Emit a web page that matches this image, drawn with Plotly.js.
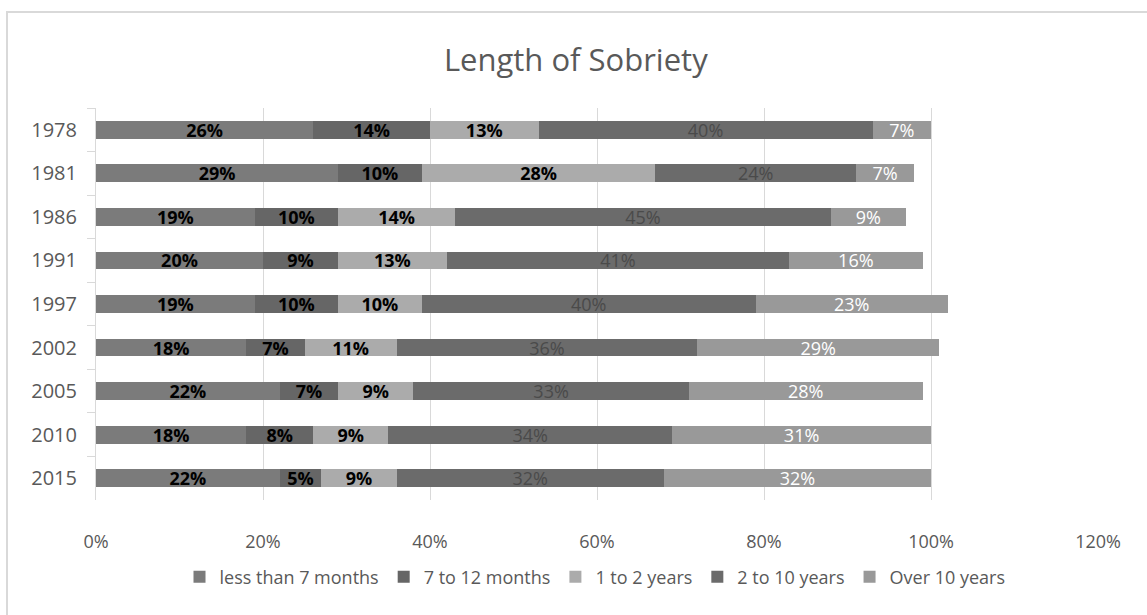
<!DOCTYPE html>
<html>
<head>
<meta charset="utf-8">
<script src="https://cdn.plot.ly/plotly-3.0.1.min.js"></script>
<style>html,body{margin:0;padding:0;background:#fff;}#chart{width:1147px;height:615px;}</style>
</head>
<body>
<div id="chart"></div>
<script>
const years = ["1978","1981","1986","1991","1997","2002","2005","2010","2015"];
const seriesNames = ["less than 7 months","7 to 12 months","1 to 2 years","2 to 10 years","Over 10 years"];
const lessThan7Months = [26,29,19,20,19,18,22,18,22];
const from7To12Months = [14,10,10,9,10,7,7,8,5];
const from1To2Years   = [13,28,14,13,10,11,9,9,9];
const from2To10Years  = [40,24,45,41,40,36,33,34,32];
const over10Years     = [7,7,9,16,23,29,28,31,32];
const xTicks = [0,20,40,60,80,100,120];

const seriesValues = [lessThan7Months, from7To12Months, from1To2Years, from2To10Years, over10Years];
const colors = ["#7b7b7b","#666666","#ababab","#6b6b6b","#999999"];
const textColors = ["#000000","#000000","#000000","#4a4a4a","#ffffff"];
const textBold = [true,true,true,false,false];

const FONT = "Open Sans, Noto Sans, sans-serif";

const traces = seriesValues.map((vals, i) => ({
  type: "bar",
  orientation: "h",
  name: seriesNames[i],
  y: years,
  x: vals,
  marker: {color: colors[i], line: {width: 0}},
  text: vals.map(v => v + "%"),
  texttemplate: "%{text}",
  textposition: "inside",
  insidetextanchor: "middle",
  textangle: 0,
  constraintext: "none",
  textfont: {family: FONT, size: 18, color: textColors[i], weight: textBold[i] ? 700 : 400},
  hoverinfo: "skip"
}));

// plot area pixel geometry
const L = 96, R = 1098, T = 108, B = 500, W = 1147, H = 615;
const px = x => (x - L) / (R - L);
const py = y => (B - y) / (B - T);

const layout = {
  width: W, height: H,
  margin: {l: L, r: W - R, t: T, b: H - B, pad: 0},
  paper_bgcolor: "#ffffff",
  plot_bgcolor: "#ffffff",
  barmode: "stack",
  bargap: 0.59,
  showlegend: true,
  title: {
    text: "Length of Sobriety",
    font: {family: FONT, size: 31, color: "#595959"},
    xref: "container", x: 0.502, xanchor: "center",
    yref: "container", y: 1 - 60/H, yanchor: "middle"
  },
  xaxis: {
    range: [0, 120],
    tickvals: xTicks,
    ticktext: xTicks.map(v => v + "%"),
    showgrid: true, gridcolor: "#d9d9d9", gridwidth: 1,
    zeroline: false, showline: false, ticks: "",
    tickfont: {family: FONT, size: 18, color: "#595959"},
    ticklabelstandoff: 29,
    fixedrange: true
  },
  yaxis: {
    type: "category",
    autorange: "reversed",
    showgrid: false, zeroline: false,
    showline: true, linecolor: "#d9d9d9", linewidth: 1,
    ticks: "outside", tickson: "boundaries", ticklen: 8, tickcolor: "#d9d9d9",
    tickfont: {family: FONT, size: 20, color: "#595959"},
    ticklabelstandoff: 14,
    fixedrange: true
  },
  legend: {
    orientation: "h",
    x: px(595), xanchor: "center",
    y: py(577), yanchor: "middle",
    font: {family: FONT, size: 18, color: "#595959"},
    traceorder: "normal",
    itemwidth: 30,
    bgcolor: "rgba(0,0,0,0)"
  },
  uniformtext: {mode: "show", minsize: 18},
  shapes: [{
    type: "rect", xref: "paper", yref: "paper",
    x0: px(7), x1: px(1170), y0: py(640), y1: py(12),
    line: {color: "#d9d9d9", width: 2}, fillcolor: "rgba(0,0,0,0)", layer: "below"
  }]
};

Plotly.newPlot("chart", traces, layout, {displayModeBar: false, staticPlot: true});
</script>
</body>
</html>
